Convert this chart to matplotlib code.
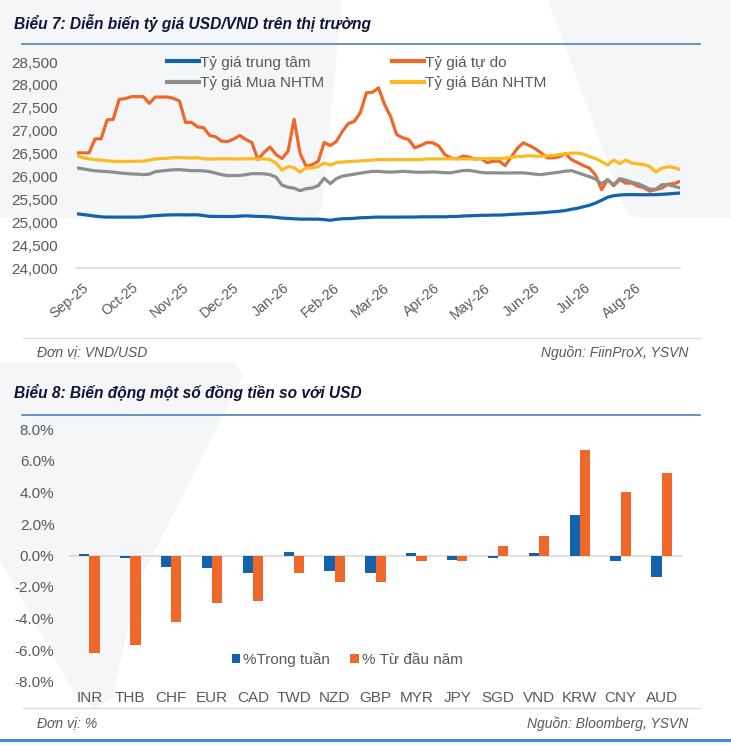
import numpy as np
import matplotlib
matplotlib.use("Agg")
import matplotlib.pyplot as plt
from matplotlib.lines import Line2D
from matplotlib.patches import Polygon
from matplotlib.ticker import FuncFormatter
import matplotlib.transforms as mtransforms

plt.rcParams['font.family'] = ['Liberation Sans', 'DejaVu Sans']

# ---- data: chart 7 (USD/VND), ~every 3.6 days from Sep-25 ----
months = ['Sep-25', 'Oct-25', 'Nov-25', 'Dec-25', 'Jan-26', 'Feb-26',
          'Mar-26', 'Apr-26', 'May-26', 'Jun-26', 'Jul-26', 'Aug-26']

trung_tam = [25184, 25167, 25151, 25133, 25118, 25112, 25112, 25110, 25112, 25112,
             25112, 25118, 25133, 25145, 25151, 25158, 25162, 25162, 25160, 25162,
             25162, 25145, 25129, 25125, 25125, 25123, 25125, 25133, 25140, 25133,
             25127, 25123, 25118, 25105, 25090, 25083, 25075, 25068, 25068, 25066,
             25068, 25057, 25042, 25064, 25075, 25079, 25086, 25097, 25101, 25108,
             25112, 25112, 25110, 25112, 25112, 25114, 25112, 25118, 25118, 25118,
             25120, 25118, 25125, 25125, 25136, 25140, 25145, 25151, 25151, 25156,
             25156, 25162, 25171, 25178, 25184, 25191, 25197, 25206, 25217, 25228,
             25239, 25256, 25283, 25305, 25338, 25371, 25419, 25480, 25546, 25579,
             25594, 25601, 25603, 25601, 25600, 25601, 25603, 25610, 25618, 25629,
             25638]

tu_do = [26515, 26515, 26515, 26822, 26822, 27235, 27246, 27684, 27700, 27743,
         27743, 27743, 27597, 27735, 27735, 27735, 27706, 27647, 27180, 27180,
         27081, 27064, 26895, 26866, 26770, 26763, 26818, 26895, 26807, 26741,
         26368, 26522, 26643, 26478, 26390, 26550, 27246, 26500, 26222, 26259,
         26331, 26741, 26675, 26763, 26982, 27158, 27202, 27399, 27827, 27838,
         27936, 27575, 27311, 26917, 26844, 26807, 26625, 26675, 26741, 26735,
         26664, 26478, 26401, 26384, 26445, 26423, 26379, 26390, 26303, 26331,
         26335, 26237, 26423, 26610, 26735, 26675, 26605, 26511, 26406, 26406,
         26428, 26500, 26368, 26303, 26237, 26182, 26029, 25711, 25930, 25798,
         25930, 25853, 25857, 25787, 25754, 25678, 25711, 25748, 25831, 25842,
         25893]

mua_nhtm = [26186, 26167, 26143, 26123, 26114, 26105, 26094, 26077, 26066, 26055,
            26050, 26039, 26050, 26105, 26121, 26134, 26145, 26149, 26138, 26127,
            26127, 26121, 26105, 26072, 26039, 26018, 26018, 26022, 26039, 26061,
            26061, 26057, 26039, 25985, 25809, 25765, 25743, 25689, 25732, 25748,
            25798, 25963, 25842, 25952, 26007, 26028, 26050, 26072, 26094, 26110,
            26112, 26099, 26094, 26101, 26112, 26105, 26094, 26092, 26094, 26099,
            26092, 26083, 26079, 26105, 26127, 26132, 26112, 26088, 26077, 26080,
            26077, 26075, 26077, 26079, 26077, 26066, 26050, 26039, 26061, 26077,
            26094, 26116, 26127, 26083, 26039, 25996, 25941, 25842, 25930, 25820,
            25952, 25919, 25875, 25842, 25787, 25722, 25722, 25820, 25820, 25787,
            25748]

ban_nhtm = [26456, 26408, 26384, 26368, 26357, 26340, 26331, 26331, 26328, 26331,
            26331, 26335, 26357, 26384, 26390, 26397, 26412, 26417, 26406, 26401,
            26412, 26384, 26380, 26384, 26386, 26384, 26382, 26384, 26384, 26386,
            26384, 26384, 26368, 26296, 26138, 26215, 26193, 26094, 26186, 26186,
            26215, 26292, 26248, 26303, 26314, 26325, 26331, 26340, 26347, 26357,
            26368, 26368, 26370, 26368, 26366, 26368, 26370, 26368, 26384, 26384,
            26382, 26384, 26386, 26384, 26384, 26382, 26384, 26390, 26390, 26392,
            26390, 26401, 26419, 26434, 26441, 26452, 26445, 26441, 26450, 26456,
            26478, 26493, 26511, 26509, 26489, 26434, 26390, 26325, 26248, 26357,
            26281, 26357, 26292, 26274, 26259, 26215, 26094, 26182, 26208, 26197,
            26149]

# ---- data: chart 8 (currencies vs USD, %) ----
currencies = ['INR', 'THB', 'CHF', 'EUR', 'CAD', 'TWD', 'NZD', 'GBP',
              'MYR', 'JPY', 'SGD', 'VND', 'KRW', 'CNY', 'AUD']
pct_week = [0.10, -0.15, -0.70, -0.78, -1.08, 0.25, -0.98, -1.08,
            0.19, -0.30, -0.13, 0.17, 2.55, -0.36, -1.37]
pct_ytd = [-6.16, -5.66, -4.24, -3.00, -2.91, -1.08, -1.67, -1.67,
           -0.36, -0.35, 0.62, 1.21, 6.71, 4.03, 5.22]

# ---- colours ----
BLUE = '#1262AE'
ORANGE = '#F0672A'
GRAY = '#8E8E8E'
YELLOW = '#FBBA24'
TXT = '#595959'
TITLE = '#13133A'

W, H = 731, 745
fig = plt.figure(figsize=(W / 100, H / 100), dpi=100)
fig.patch.set_facecolor('white')


def fx(px):
    return px / W


def fy(py):
    return 1 - py / H


def px_rect(x0, y0, x1, y1):
    return [fx(x0), fy(y1), fx(x1) - fx(x0), fy(y0) - fy(y1)]


# faint watermark shapes behind the charts
wm = '#F5F6F8'
shapes = [
    [(0, 0), (342, 0), (322, 208), (312, 218), (0, 218)],
    [(548, 0), (731, 0), (731, 218), (634, 218), (625, 210)],
    [(0, 362), (232, 362), (244, 374), (140, 580), (112, 698), (96, 708), (78, 700), (0, 560)],
]
for pts in shapes:
    fig.patches.append(Polygon([(fx(a), fy(b)) for a, b in pts], closed=True,
                               transform=fig.transFigure, facecolor=wm,
                               edgecolor='none', zorder=-5))

# titles, rules, footers
fig.text(fx(14), fy(23), 'Biểu 7: Diễn biến tỷ giá USD/VND trên thị trường',
         fontsize=11.2, fontweight='bold', fontstyle='italic', color=TITLE, va='center')
fig.text(fx(14), fy(393), 'Biểu 8: Biến động một số đồng tiền so với USD',
         fontsize=11.2, fontweight='bold', fontstyle='italic', color=TITLE, va='center')
fig.lines.append(Line2D([fx(22), fx(700)], [fy(43.5), fy(43.5)], transform=fig.transFigure,
                        color='#4F81BD', lw=1.2))
fig.lines.append(Line2D([fx(22), fx(700)], [fy(414.5), fy(414.5)], transform=fig.transFigure,
                        color='#4F81BD', lw=1.2))
fig.lines.append(Line2D([fx(23), fx(700)], [fy(338.5), fy(338.5)], transform=fig.transFigure,
                        color='#DCDCDC', lw=1.0))
fig.lines.append(Line2D([fx(23), fx(700)], [fy(708), fy(708)], transform=fig.transFigure,
                        color='#DCDCDC', lw=1.0))
fig.lines.append(Line2D([0, 1], [fy(740), fy(740)], transform=fig.transFigure,
                        color='#3A8BD6', lw=2.2))

fig.text(fx(37), fy(352.5), 'Đơn vị: VND/USD', fontsize=10, fontstyle='italic',
         color=TXT, va='center')
fig.text(fx(688), fy(352.5), 'Nguồn: FiinProX, YSVN', fontsize=10, fontstyle='italic',
         color=TXT, va='center', ha='right')
fig.text(fx(37), fy(723.5), 'Đơn vị: %', fontsize=10, fontstyle='italic',
         color=TXT, va='center')
fig.text(fx(688), fy(723.5), 'Nguồn: Bloomberg, YSVN', fontsize=10, fontstyle='italic',
         color=TXT, va='center', ha='right')

# ---- chart 7 ----
ax1 = fig.add_axes(px_rect(77, 62, 680, 268))
ax1.patch.set_alpha(0)
x = np.arange(len(tu_do))
l_tt, = ax1.plot(x, trung_tam, color=BLUE, lw=2.3, label='Tỷ giá trung tâm')
l_td, = ax1.plot(x, tu_do, color=ORANGE, lw=2.3, label='Tỷ giá tự do')
l_mua, = ax1.plot(x, mua_nhtm, color=GRAY, lw=2.3, label='Tỷ giá Mua NHTM')
l_ban, = ax1.plot(x, ban_nhtm, color=YELLOW, lw=2.3, label='Tỷ giá Bán NHTM')
ax1.set_xlim(0, len(tu_do) - 1)
ax1.set_ylim(24000, 28500)
ax1.set_yticks(np.arange(24000, 28501, 500))
ax1.yaxis.set_major_formatter(FuncFormatter(lambda v, p: f'{int(v):,}'))
step = (len(tu_do) - 1) / 12
ax1.set_xticks([i * step for i in range(len(months))])
ax1.set_xticklabels(months, rotation=40, ha='right', rotation_mode='anchor')
for s in ['top', 'right', 'left']:
    ax1.spines[s].set_visible(False)
ax1.spines['bottom'].set_color('#D9D9D9')
ax1.spines['bottom'].set_linewidth(1.2)
ax1.tick_params(axis='both', length=0, labelsize=11, labelcolor=TXT)
ax1.tick_params(axis='x', labelsize=10.2, pad=9)
ax1.tick_params(axis='y', pad=13.5)
off = mtransforms.ScaledTranslation(5 / 100, 0, fig.dpi_scale_trans)
for lab in ax1.get_xticklabels():
    lab.set_transform(lab.get_transform() + off)

leg1 = ax1.legend(handles=[l_tt, l_mua, l_td, l_ban], ncol=2, frameon=False,
                  loc='upper left', bbox_to_anchor=(fx(167), fy(55.5)),
                  bbox_transform=fig.transFigure, fontsize=11,
                  handlelength=2.1, handletextpad=0.08, columnspacing=4.4,
                  labelspacing=0.42, borderpad=0, borderaxespad=0)
for t in leg1.get_texts():
    t.set_color(TXT)
for h in leg1.get_lines():
    h.set_linewidth(3)

# ---- chart 8 ----
ax2 = fig.add_axes(px_rect(69, 429.5, 682, 681.5))
ax2.patch.set_alpha(0)
xc = np.arange(len(currencies))
bw = 0.25
ax2.bar(xc - bw / 2, pct_week, width=bw, color=BLUE, label='%Trong tuần', zorder=3)
ax2.bar(xc + bw / 2, pct_ytd, width=bw, color=ORANGE, label='% Từ đầu năm', zorder=3)
ax2.axhline(0, color='#D9D9D9', lw=1.2, zorder=2)
ax2.set_xlim(-0.5, len(currencies) - 0.5)
ax2.set_ylim(-8, 8)
ax2.set_yticks(np.arange(-8, 8.1, 2))
ax2.yaxis.set_major_formatter(FuncFormatter(lambda v, p: f'{v:.1f}%'))
ax2.set_xticks(xc)
ax2.set_xticklabels(currencies)
for s in ['top', 'right', 'left', 'bottom']:
    ax2.spines[s].set_visible(False)
ax2.tick_params(axis='both', length=0, labelsize=11, labelcolor=TXT)
ax2.tick_params(axis='y', pad=10.5)
ax2.tick_params(axis='x', pad=7)

leg2 = ax2.legend(ncol=2, frameon=False, loc='center left',
                  bbox_to_anchor=(fx(232), fy(659.5)), bbox_transform=fig.transFigure,
                  fontsize=11, handlelength=0.55, handleheight=0.55,
                  handletextpad=0.2, columnspacing=1.3, borderpad=0, borderaxespad=0)
for t in leg2.get_texts():
    t.set_color(TXT)

fig.savefig('out.png', dpi=100, facecolor='white')
